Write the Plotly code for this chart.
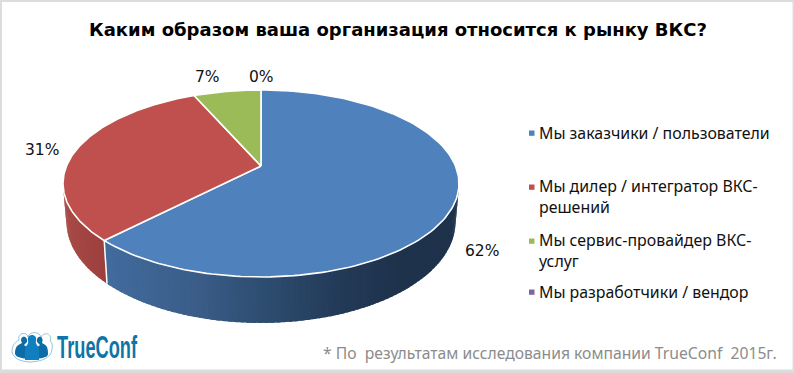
import numpy as np
import plotly.graph_objects as go

TITLE = "Каким образом ваша организация относится к рынку ВКС?"
CATEGORIES = ["Мы заказчики / пользователи", "Мы дилер / интегратор ВКС-<br>решений",
              "Мы сервис-провайдер ВКС-<br>услуг", "Мы разработчики / вендор"]
VALUES = [62.3, 31.1, 6.6, 0.0]
LABELS = ["62%", "31%", "7%", "0%"]
COLORS = ["#4f81bd", "#c0504d", "#9bbb59", "#8064a2"]
FOOTNOTE = "* По  результатам исследования компании TrueConf  2015г."

# geometry of the tilted disc (pixels of the page)
CX, APEX_Y, R, H, K = 261.0, 166.0, 194.5, 90.2, 0.187
EC_Y, E_RX, E_RY = 183.5, 198.0, 93.5
BOT_Y, BOT_RX, BOT_RY = 222.0, 194.5, 101.0


def rim(th):
    th = np.radians(th)
    u, v = np.sin(th), np.cos(th)
    w = 1 + K * v
    return CX + R * u / w, APEX_Y - H * v / w


def bottom(th):
    x, y = rim(th)
    return CX + BOT_RX * (x - CX) / E_RX, BOT_Y + BOT_RY * (y - EC_Y) / E_RY


def lerp_stops(x, stops):
    xs = [s[0] for s in stops]
    return "rgb(%d,%d,%d)" % tuple(np.interp(x, xs, [s[1][i] for s in stops]) for i in range(3))


BLUE_STOPS = [(105, (66, 108, 158)), (200, (58, 92, 135)), (260, (46, 78, 113)),
              (340, (35, 58, 88)), (400, (30, 50, 75)), (460, (30, 50, 75))]
RED_STOPS = [(63, (170, 75, 72)), (108, (155, 62, 60))]

fig = go.Figure()
total = sum(VALUES)
edges = np.concatenate([[0], np.cumsum(VALUES) / total * 360])
VIS0, VIS1 = 100.8, 259.2

# side wall: painted from the right so that each slat overlaps the previous one
for i, stops in ((0, BLUE_STOPS), (1, RED_STOPS)):
    a0, a1 = max(edges[i], VIS0), min(edges[i + 1], VIS1)
    n = int((a1 - a0) / 1.5) + 1
    steps = np.linspace(a0, a1, n + 1)
    for s0, s1 in zip(steps[:-1], steps[1:]):
        t = np.linspace(s0, a1, 2) if s1 == a1 else np.array([s0, min(s1 + 1.0, a1)])
        xt, yt = rim(t)
        xb, yb = bottom(t[::-1])
        c = lerp_stops((xt.mean() + xb.mean()) / 2, stops)
        fig.add_trace(go.Scatter(x=list(xt) + list(xb), y=list(yt) + list(yb), mode="none",
                                 fill="toself", fillcolor=c,
                                 hoverinfo="skip", showlegend=False))
# white seam on the wall
xa, ya = rim(edges[1])
xz, yz = bottom(edges[1])
fig.add_trace(go.Scatter(x=[xa, xz], y=[ya, yz], mode="lines", line=dict(color="white", width=1.5),
                         hoverinfo="skip", showlegend=False))

# top face
for i, name in enumerate(CATEGORIES):
    if VALUES[i] <= 0:
        continue
    t = np.linspace(edges[i], edges[i + 1], 160)
    x, y = rim(t)
    fig.add_trace(go.Scatter(x=[CX] + list(x) + [CX], y=[APEX_Y] + list(y) + [APEX_Y], mode="lines",
                             fill="toself", fillcolor=COLORS[i], line=dict(color="white", width=1.6),
                             name=name.replace("<br>", " "), hoverinfo="name", showlegend=False))

LABEL_FONT = dict(family="DejaVu Sans", size=15.5, color="#111111")
ann = [dict(x=397.5, y=29, text="<b>%s</b>" % TITLE, showarrow=False, xanchor="center", yanchor="middle",
            font=dict(family="DejaVu Sans", size=18, color="#000000"))]
for txt, (lx, ly) in zip(LABELS, [(482, 251), (42, 150), (207, 77), (261, 77)]):
    ann.append(dict(x=lx, y=ly, text=txt, showarrow=False, xanchor="center", yanchor="middle", font=LABEL_FONT))

LEG_Y = [133, 196.5, 250.5, 292]
shapes = [dict(type="rect", layer="below", x0=2, x1=792.5, y0=2, y1=369.5, fillcolor="white", line_width=0)]
for name, c, ly in zip(CATEGORIES, COLORS, LEG_Y):
    ann.append(dict(x=537, y=ly, text=name, showarrow=False, xanchor="left", yanchor="middle", align="left",
                    font=dict(family="Noto Sans", size=15.9, color="#111111")))
    sy = ly if "<br>" not in name else ly - 9.5
    shapes.append(dict(type="rect", x0=529, x1=534.5, y0=sy - 2.5, y1=sy + 2.8, fillcolor=c, line_width=0))

ann.append(dict(x=779, y=353, text=FOOTNOTE, showarrow=False, xanchor="right", yanchor="middle",
                font=dict(family="Noto Sans", size=15.7, color="#8c8c8c")))
ann.append(dict(x=97, y=347.5, text="TrueConf", showarrow=False, xanchor="center", yanchor="middle",
                font=dict(family="Liberation Sans", size=31, color="#0f74a8", weight="bold")))

# logo pictogram: three figures inside a pale outline
LOGO = "#0f7fc0"
shapes += [
    dict(type="path", path="M12 352 C12 344 16 342 19 340 C17 333 27 331 28 337 C29 331 41 331 41 338 C43 331 53 333 50 341 C54 343 52 352 50 355 C44 361 38 361 31 362 C24 362 14 360 12 352 Z",
         fillcolor="white", line=dict(color="#8fc3e3", width=1)),
    dict(type="path", path="M15 354 C15 346 18 345 22 343 C18 336 28 334 27 342 L24 345 L28 348 L27 359 C21 358 16 357 15 354 Z", fillcolor="#0d6ca5", line_width=0),
    dict(type="path", path="M48 354 C48 346 46 345 42 343 C45 336 36 334 37 342 L40 345 L36 348 L37 359 C43 358 48 357 48 354 Z", fillcolor="#0d6ca5", line_width=0),
    dict(type="path", path="M25 360 L25 349 C26 345 29 344 28 341 C26 333 38 333 36 341 C35 344 38 345 39 349 L39 360 Z", fillcolor=LOGO, line_width=0),
]

fig.update_layout(
    width=794, height=373, autosize=False, margin=dict(l=0, r=0, t=0, b=0),
    paper_bgcolor="#dcdcdc", plot_bgcolor="rgba(0,0,0,0)", showlegend=False,
    xaxis=dict(range=[0, 794], visible=False, fixedrange=True),
    yaxis=dict(range=[373, 0], visible=False, fixedrange=True),
    annotations=ann, shapes=shapes,
)
POST = """
document.documentElement.style.margin='0';document.body.style.margin='0';document.body.style.overflow='hidden';
document.querySelectorAll('.annotation-text').forEach(function(t){
  if(t.textContent==='TrueConf'){t.setAttribute('textLength','80');t.setAttribute('lengthAdjust','spacingAndGlyphs');}
});
"""
fig.write_html("out.html", config=dict(displayModeBar=False), post_script=POST)
